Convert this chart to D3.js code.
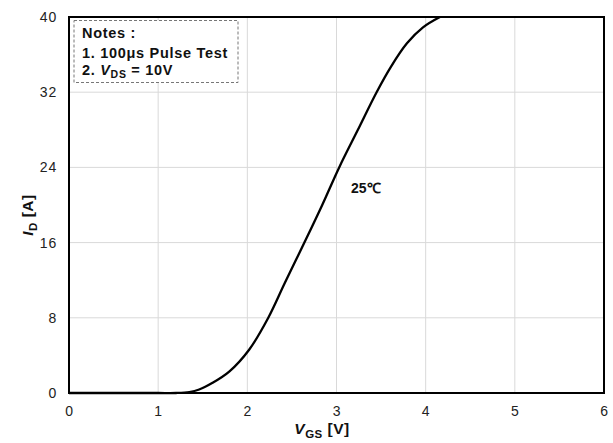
<!DOCTYPE html>
<html>
<head>
<meta charset="utf-8">
<script src="https://cdn.jsdelivr.net/npm/d3@7"></script>
<style>
  body { margin: 0; background: #fff; }
  text { font-family: "Liberation Sans", Arial, sans-serif; }
</style>
</head>
<body>
<div id="chart"></div>
<script>
// data (25 C)
var vgs = [0, 0.5, 1.0, 1.2, 1.35, 1.46, 1.61, 1.8, 2.02, 2.235, 2.42, 2.64, 2.84, 3.03, 3.24, 3.45, 3.61, 3.79, 3.97, 4.16];
var id  = [0, 0, 0, 0, 0.1, 0.37, 1.08, 2.3, 4.6, 8.0, 11.7, 16.0, 20.0, 24.0, 28.0, 32.0, 34.7, 37.2, 38.9, 40];
var xTicks = [0, 1, 2, 3, 4, 5, 6];
var yTicks = [0, 8, 16, 24, 32, 40];

var margin = {top: 17, right: 9, bottom: 50, left: 69},
    width = 613 - margin.left - margin.right,
    height = 443 - margin.top - margin.bottom;

var svg = d3.select("#chart")
    .append("svg")
    .attr("width", 613)
    .attr("height", 443)
    .append("g")
    .attr("transform", "translate(" + margin.left + "," + margin.top + ")");

var x = d3.scaleLinear().domain([0, 6]).range([0, width]);
var y = d3.scaleLinear().domain([0, 40]).range([height, 0]);

// grid
svg.append("g")
    .selectAll("line")
    .data(xTicks.slice(1, -1))
    .enter()
    .append("line")
    .attr("x1", function (d) { return x(d); })
    .attr("x2", function (d) { return x(d); })
    .attr("y1", 0)
    .attr("y2", height)
    .style("stroke", "#d9d9d9")
    .style("stroke-width", 1);

svg.append("g")
    .selectAll("line")
    .data(yTicks.slice(1, -1))
    .enter()
    .append("line")
    .attr("x1", 0)
    .attr("x2", width)
    .attr("y1", function (d) { return y(d); })
    .attr("y2", function (d) { return y(d); })
    .style("stroke", "#d9d9d9")
    .style("stroke-width", 1);

// axes (labels only, the frame is drawn below)
var xAxis = svg.append("g")
    .attr("transform", "translate(0," + height + ")")
    .call(d3.axisBottom(x).tickValues(xTicks).tickFormat(d3.format("d")).tickSize(0).tickPadding(13));
var yAxis = svg.append("g")
    .call(d3.axisLeft(y).tickValues(yTicks).tickFormat(d3.format("d")).tickSize(0).tickPadding(12));
[xAxis, yAxis].forEach(function (a) {
    a.select(".domain").remove();
    a.selectAll("text")
        .style("font-family", "'Liberation Sans', Arial, sans-serif")
        .style("font-size", "14px")
        .style("letter-spacing", "0.8px")
        .style("fill", "#222");
});

// curve
var line = d3.line()
    .x(function (d, i) { return x(vgs[i]); })
    .y(function (d) { return y(d); })
    .curve(d3.curveCatmullRom.alpha(0.5));

svg.append("path")
    .datum(id)
    .attr("d", line)
    .style("fill", "none")
    .style("stroke", "#000")
    .style("stroke-width", 2.3);

// frame
svg.append("rect")
    .attr("width", width)
    .attr("height", height)
    .style("fill", "none")
    .style("stroke", "#000")
    .style("stroke-width", 2);

// notes box
svg.append("rect")
    .attr("x", 5)
    .attr("y", 3.5)
    .attr("width", 164)
    .attr("height", 62)
    .style("fill", "#fff")
    .style("stroke", "#777")
    .style("stroke-width", 1)
    .style("stroke-dasharray", "3,2");

var notes = svg.append("g")
    .style("font-size", "14.5px")
    .style("font-weight", "bold")
    .style("letter-spacing", "0.7px")
    .style("fill", "#111");
notes.append("text").attr("x", 13).attr("y", 21).text("Notes :");
notes.append("text").attr("x", 13).attr("y", 41).text("1. 100\u03bcs Pulse Test");
var n2 = notes.append("text").attr("x", 13).attr("y", 58);
n2.append("tspan").text("2. ");
n2.append("tspan").style("font-style", "italic").text("V");
n2.append("tspan").attr("dy", 3).style("font-size", "10.5px").text("DS");
n2.append("tspan").attr("dy", -3).text(" = 10V");

// curve label
svg.append("text")
    .attr("x", 282)
    .attr("y", 176)
    .style("font-size", "14px")
    .style("font-weight", "bold")
    .style("fill", "#111")
    .text("25\u2103");

// axis titles
var xt = svg.append("text")
    .attr("x", 253)
    .attr("y", height + 41)
    .attr("text-anchor", "middle")
    .style("font-size", "15.5px")
    .style("font-weight", "bold")
    .style("letter-spacing", "0.5px")
    .style("fill", "#111");
xt.append("tspan").style("font-style", "italic").text("V");
xt.append("tspan").attr("dy", 4).style("font-size", "11.5px").text("GS");
xt.append("tspan").attr("dy", -4).text(" [V]");

var yt = svg.append("text")
    .attr("transform", "translate(-36,198) rotate(-90)")
    .attr("text-anchor", "middle")
    .style("font-size", "15.5px")
    .style("font-weight", "bold")
    .style("letter-spacing", "0.5px")
    .style("fill", "#111");
yt.append("tspan").style("font-style", "italic").text("I");
yt.append("tspan").attr("dy", 4).style("font-size", "11.5px").text("D");
yt.append("tspan").attr("dy", -4).text(" [A]");
</script>
</body>
</html>
